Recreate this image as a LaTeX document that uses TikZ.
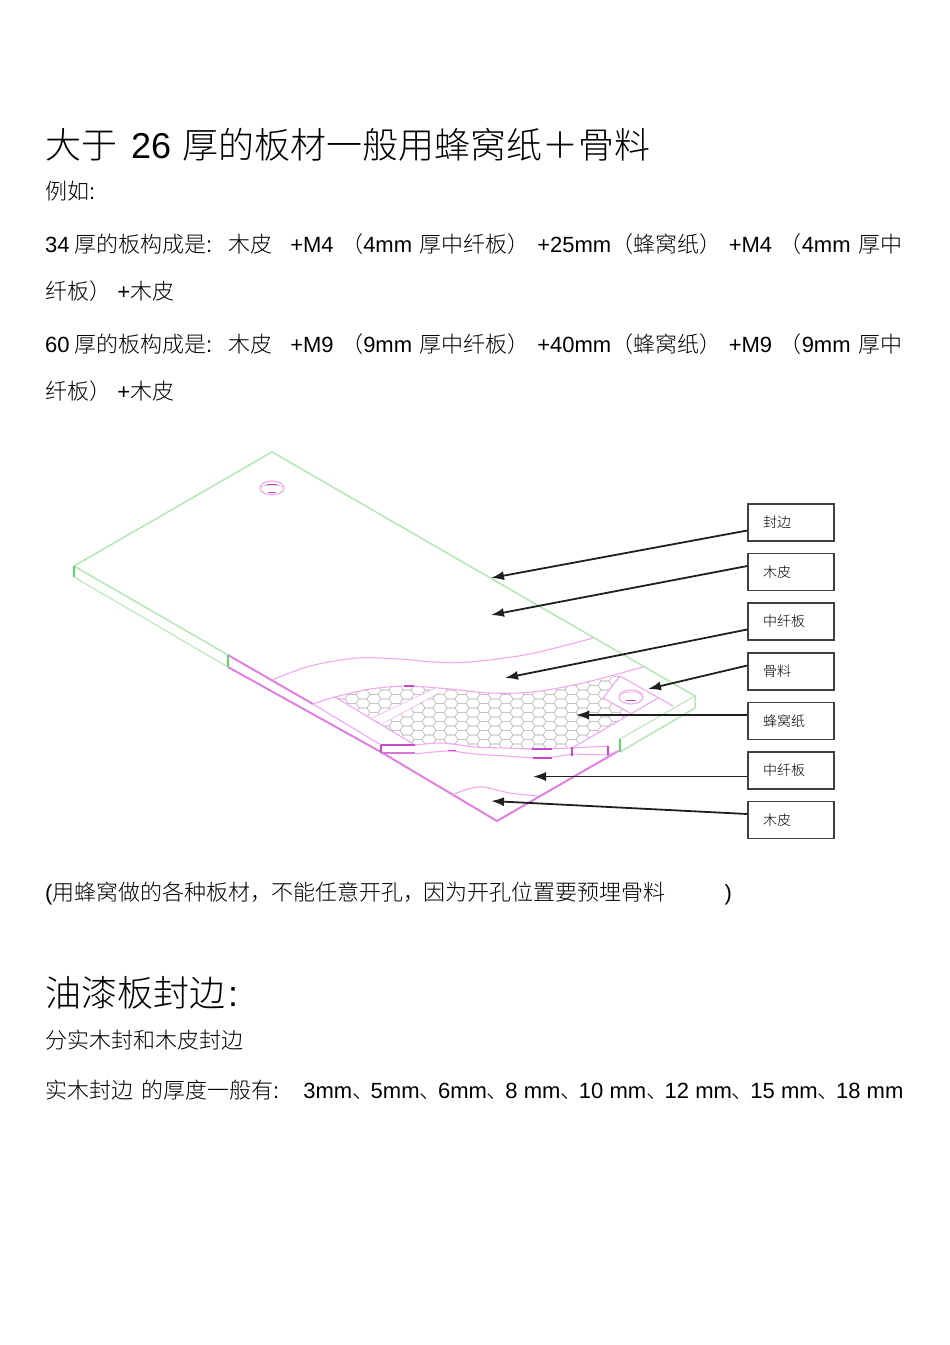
\documentclass[tikz,border=0pt]{standalone}
\usepackage{fontspec}
\setmainfont{Liberation Sans}
\newfontfamily\cjk{Noto Sans CJK SC Light}
\newcommand{\hz}[1]{{\cjk #1}}
\definecolor{edgegreen}{HTML}{B4E6B4}
\definecolor{cutgreen}{HTML}{58D868}
\definecolor{veneerpink}{HTML}{F2A6F2}
\definecolor{tickpink}{HTML}{C848C8}
\definecolor{cellgrey}{HTML}{C4C4C4}
\tikzset{
  headline/.style={anchor=base west,inner sep=0pt,font=\fontsize{36}{40}\selectfont},
  bodyline/.style={anchor=base west,inner sep=0pt,font=\fontsize{22}{26}\selectfont},
  labelbox/.style={draw=black!75,line width=1.5pt,minimum width=86pt,minimum height=37pt,
    inner sep=0pt,text width=56pt,align=left,font=\fontsize{14}{16}\selectfont},
  leader/.style={draw=black!88,line width=1.8pt,-{Latex[length=13pt,width=9pt]}},
  greenedge/.style={draw=edgegreen,line width=1.5pt},
  pinkedge/.style={draw=veneerpink,line width=1.1pt},
  pinkheavy/.style={draw=veneerpink!60!tickpink,line width=2pt},
  tick/.style={draw=tickpink,line width=1.4pt},
  cell/.style={draw=cellgrey,line width=0.6pt},
}
\usetikzlibrary{arrows.meta}
\begin{document}
\begin{tikzpicture}[x=1pt,y=-1pt]
  \useasboundingbox (0,0) rectangle (950,1345);
  % text above the drawing
  \node[headline] (title1) at (45,158) {\hz{大于}\hspace{14pt}26\hspace{11pt}\hz{厚的板材一般用蜂窝纸＋骨料}};
  \node[bodyline] (example) at (45,199) {\hz{例如}:};
  \node[bodyline] (line34a) at (45,252) {\makebox[857pt][s]{34\hspace{4.5pt}\hz{厚的板构成是}:\hspace{16pt}\hz{木皮}\hspace{18pt}+M4 \hz{（}4mm \hz{厚中纤板）} +25mm\hz{（蜂窝纸）} +M4 \hz{（}4mm \hz{厚中}}};
  \node[bodyline] (line34b) at (45,299) {\hz{纤板）} +\hz{木皮}};
  \node[bodyline] (line60a) at (45,352) {\makebox[857pt][s]{60\hspace{4.5pt}\hz{厚的板构成是}:\hspace{16pt}\hz{木皮}\hspace{18pt}+M9 \hz{（}9mm \hz{厚中纤板）} +40mm\hz{（蜂窝纸）} +M9 \hz{（}9mm \hz{厚中}}};
  \node[bodyline] (line60b) at (45,399) {\hz{纤板）} +\hz{木皮}};
  % honeycomb core
  \begin{scope}
    \clip plot[smooth] coordinates {(335,697) (370,689) (407,686) (450,689) (490,693) (533,692) (583,683) (620,675)}
      -- (603,698) -- (630,713) -- (572,748)
      -- plot[smooth] coordinates {(533,749) (505,748) (475,747) (442,743) (415,745)} -- cycle;
    \foreach \col in {0,...,28}
      \foreach \row in {0,...,8} {
        \pgfmathsetmacro{\hx}{330+11*\col}
        \pgfmathsetmacro{\hy}{672+9*\row+4.5*mod(\col,2)}
        \draw[cell] (\hx,\hy) ++(-7,0) -- ++(3,-4.5) -- ++(8,0) -- ++(3,4.5) -- ++(-3,4.5) -- ++(-8,0) -- cycle;
      }
  \end{scope}
  % bone across the core
  \fill[white] (372,718) -- (433,689) -- (441,692) -- (382,724) -- cycle;
  \draw[pinkedge,line width=0.5pt] (372,718) -- (433,689) (382,724) -- (441,692);
  % board outline
  \draw[greenedge] (74,566) -- (272,452) -- (695,696) -- (695,708) -- (620,752);
  \draw[greenedge,line width=1pt] (620,739) -- (695,696);
  \draw[greenedge] (74,566) -- (228,655);
  \draw[greenedge,line width=1pt] (74,577) -- (228,667);
  \draw[pinkheavy] (228,655) -- (313,704);
  \draw[pinkedge] (313,704) -- (381,745);
  \draw[pinkheavy] (228,667) -- (381,752);
  \draw[pinkheavy] (381,752) -- (497,821) -- (620,750);
  \draw[cutgreen,line width=1.4pt] (74,566) -- (74,577) (228,655) -- (228,667) (620,739) -- (620,752);
  % layer edges
  \draw[pinkedge] plot[smooth] coordinates {(272,680) (310,666) (357,658) (400,659) (433,662) (470,662) (530,654) (593,638)};
  \draw[pinkedge] plot[smooth] coordinates {(313,704) (335,697) (370,689) (407,686) (450,689) (490,693) (533,692) (583,683) (643,667)};
  \draw[pinkedge] (335,697) -- (415,745);
  \draw[pinkedge] plot[smooth] coordinates {(415,745) (442,743) (475,747) (505,748) (533,749) (572,748)};
  \draw[pinkedge] plot[smooth] coordinates {(415,754) (448,751) (475,754) (505,756) (543,758) (572,754)};
  \draw[pinkedge] (572,748) -- (658,698) (572,754) -- (608,755) -- (620,750) (572,748) -- (608,746);
  \draw[pinkedge] plot[smooth] coordinates {(452,795) (468,789) (483,787) (510,793) (538,796)};
  % bone block at the corner
  \draw[pinkedge] (603,698) -- (620,676) -- (673,706) (603,698) -- (630,713);
  \draw[pinkedge] (631,697) ellipse (12 and 7);
  \draw[pinkedge,line width=0.6pt] (619,697) arc[start angle=180,end angle=360,x radius=12,y radius=5];
  % top hole
  \draw[pinkedge] (272,488) ellipse (12 and 7);
  \draw[pinkedge,line width=0.6pt] (260,488) arc[start angle=180,end angle=360,x radius=12,y radius=3];
  % short dark marks
  \draw[tick] (267,484.5) -- (277,484.5) (268,492.5) -- (276,492.5) (626,700.5) -- (636,700.5);
  \draw[tick] (404,686) -- (414,686) (448,750.5) -- (456,750.5) (532,749) -- (552,749) (533,758) -- (552,758);
  \draw[tick] (381,745) -- (415,745) (381,745) -- (381,753);
  \draw[tick,draw=tickpink!75,line width=1.8pt] (381,753) -- (415,753);
  \draw[tick] (572,747) -- (572,756) (608,746) -- (608,755);
  % labels
  \draw
    (791,522.5) node[labelbox] (edging){\hz{封边}}
    (791,572) node[labelbox] (veneertop){\hz{木皮}}
    (791,621.5) node[labelbox] (mdftop){\hz{中纤板}}
    (791,671.5) node[labelbox] (bone){\hz{骨料}}
    (791,721) node[labelbox] (honeycomb){\hz{蜂窝纸}}
    (791,770.5) node[labelbox] (mdfbottom){\hz{中纤板}}
    (791,820) node[labelbox] (veneerbottom){\hz{木皮}};
  \coordinate (edgingtip) at (491,578);
  \coordinate (veneertoptip) at (491,615);
  \coordinate (mdftoptip) at (505,678);
  \coordinate (bonetip) at (648,689);
  \coordinate (honeycombtip) at (576,715);
  \coordinate (mdfbottomtip) at (533,776.5);
  \coordinate (veneerbottomtip) at (491,801);
  \begin{scope}[leader]
    \draw ([yshift=-8pt]edging.west) to (edgingtip);
    \draw ([yshift=6pt]veneertop.west) to (veneertoptip);
    \draw ([yshift=-8pt]mdftop.west) to (mdftoptip);
    \draw ([yshift=6pt]bone.west) to (bonetip);
    \draw ([yshift=6pt]honeycomb.west) to (honeycombtip);
    \draw ([yshift=-6pt]mdfbottom.west) to (mdfbottomtip);
    \draw ([yshift=6pt]veneerbottom.west) to (veneerbottomtip);
  \end{scope}
  % text below the drawing
  \node[bodyline] (caption) at (45,900) {(\hz{用蜂窝做的各种板材，}\hspace{-1.5pt}\hz{不能任意开孔，}\hspace{-1.5pt}\hz{因为开孔位置要预埋骨料}\hspace{59pt})};
  \node[headline] (title2) at (45,1006) {\hz{油漆板封边}\hspace{3pt}:};
  \node[bodyline] (split) at (45,1048) {\hz{分实木封和木皮封边}};
  \node[bodyline] (thick) at (45,1098) {\hz{实木封边}\hspace{8pt}\hz{的厚度一般有}:\hspace{24pt}3mm\hz{、}\hspace{-3.5pt}5mm\hz{、}\hspace{-3.5pt}6mm\hz{、}\hspace{-3.5pt}8 mm\hz{、}\hspace{-3.5pt}10 mm\hz{、}\hspace{-3.5pt}12 mm\hz{、}\hspace{-3.5pt}15 mm\hz{、}\hspace{-3.5pt}18 mm};
\end{tikzpicture}
\end{document}
